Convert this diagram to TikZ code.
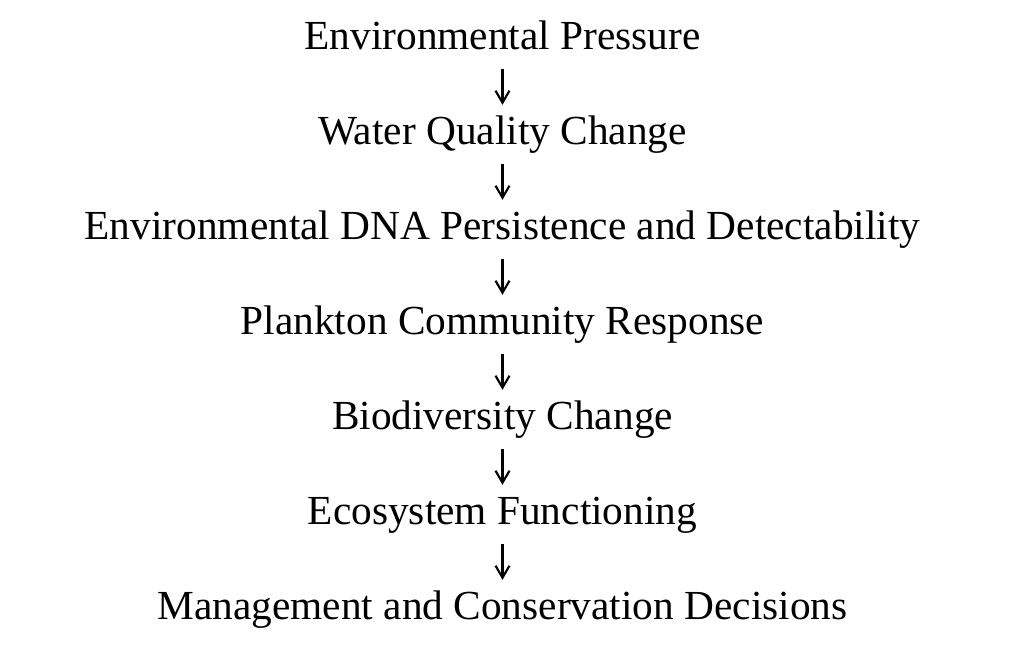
\documentclass[tikz,border=0pt]{standalone}
\usepackage{fontspec}
\setmainfont{Liberation Serif}
\usepackage{tikz}
\usetikzlibrary{arrows.meta}

\begin{document}
\begin{tikzpicture}[x=0.75pt, y=-0.75pt]
\tikzset{Stage/.style={inner sep=0pt, anchor=base, text height=20pt, text depth=0pt,
  font=\fontsize{31}{37}\selectfont}}
\tikzset{Flow/.style={-{Straight Barb[length=9pt, width=10.5pt]}, line width=1.6pt,
  shorten <=15pt, shorten >=9.2pt}}
\useasboundingbox (0,0) rectangle (1029,651);
\node[Stage] (press) at (502.5,49) {Environmental Pressure};
\node[Stage] (water) at (502.5,144) {Water Quality Change};
\node[Stage] (edna) at (502.5,239) {Environmental DNA Persistence and Detectability};
\node[Stage] (plank) at (502.5,334) {Plankton Community Response};
\node[Stage] (biodiv) at (502.5,429) {Biodiversity Change};
\node[Stage] (eco) at (502.5,524) {Ecosystem Functioning};
\node[Stage] (manage) at (502.5,619) {Management and Conservation Decisions};
\draw[Flow] (press) -- (water);
\draw[Flow] (water) -- (edna);
\draw[Flow] (edna) -- (plank);
\draw[Flow] (plank) -- (biodiv);
\draw[Flow] (biodiv) -- (eco);
\draw[Flow] (eco) -- (manage);
\end{tikzpicture}
\end{document}
